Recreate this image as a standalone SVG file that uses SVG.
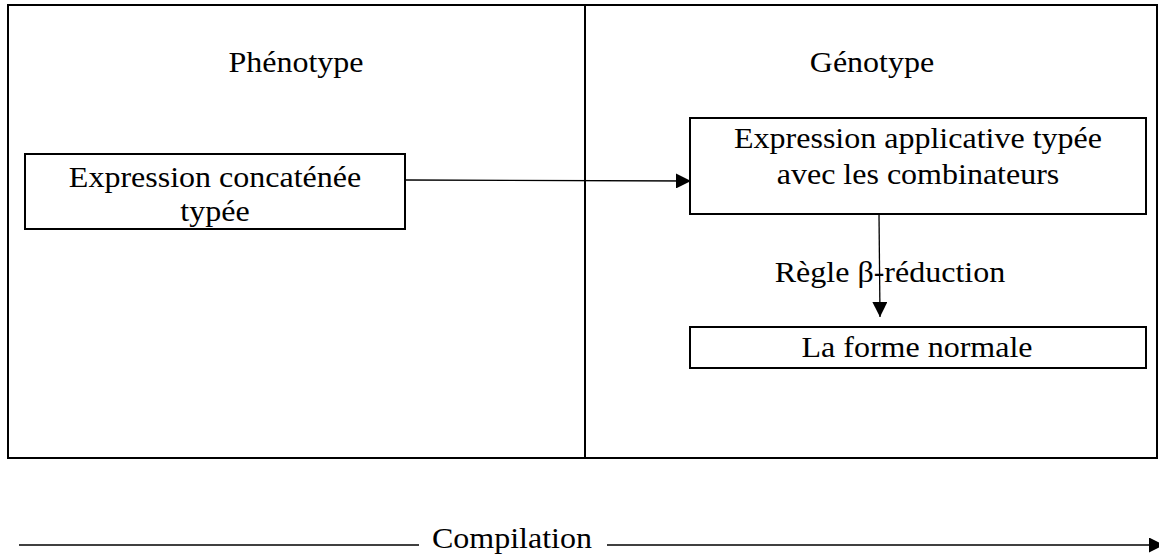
<svg xmlns="http://www.w3.org/2000/svg" width="1159" height="556" viewBox="0 0 1159 556">
<style>
text{font-family:"Liberation Serif","Times New Roman",serif;font-size:30px;fill:#000;text-anchor:middle}
.box{fill:#fff;stroke:#000;stroke-width:2}
.con{stroke:#000;stroke-width:1.3;fill:none}
</style>
<defs>
<marker id="ah" viewBox="0 0 10 10" refX="10" refY="5" markerWidth="15" markerHeight="15" markerUnits="userSpaceOnUse" orient="auto">
<path d="M0,0 L10,5 L0,10 z" fill="#000"/>
</marker>
</defs>
<rect width="1159" height="556" fill="#fff"/>
<g id="frame">
<rect x="8" y="5" width="1149" height="453" fill="none" stroke="#000" stroke-width="2"/>
<line x1="585" y1="5" x2="585" y2="458" stroke="#000" stroke-width="2"/>
</g>
<g id="label-phenotype"><text transform="translate(296,72) scale(1.067,1)">Phénotype</text></g>
<g id="label-genotype"><text transform="translate(872,72) scale(1.067,1)">Génotype</text></g>
<g id="node-concat">
<rect class="box" x="25" y="154" width="380" height="75"/>
<text transform="translate(215,187) scale(1.067,1)">Expression concaténée</text>
<text transform="translate(215,221) scale(1.067,1)">typée</text>
</g>
<g id="node-applicative">
<rect class="box" x="690" y="118" width="456" height="96"/>
<text transform="translate(918,148) scale(1.067,1)">Expression applicative typée</text>
<text transform="translate(918,184) scale(1.067,1)">avec les combinateurs</text>
</g>
<g id="node-normal">
<rect class="box" x="690" y="327" width="456" height="41"/>
<text transform="translate(917,357) scale(1.067,1)">La forme normale</text>
</g>
<g id="connectors">
<line class="con" x1="405" y1="180" x2="691" y2="181" marker-end="url(#ah)"/>
<line class="con" x1="879" y1="214" x2="880" y2="317" marker-end="url(#ah)"/>
<line class="con" x1="19" y1="545" x2="419" y2="545"/>
<line class="con" x1="607" y1="545" x2="1164" y2="545" marker-end="url(#ah)"/>
</g>
<g id="label-beta"><text transform="translate(890,282) scale(1.067,1)">Règle β-réduction</text></g>
<g id="label-compilation"><text transform="translate(512,548) scale(1.067,1)">Compilation</text></g>
</svg>
